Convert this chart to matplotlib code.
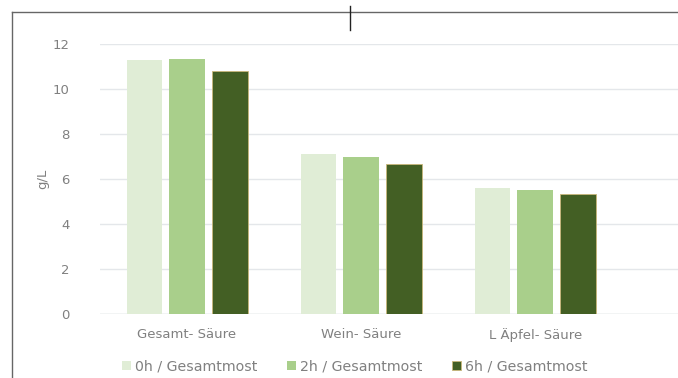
import numpy as np
import matplotlib.pyplot as plt
from matplotlib.lines import Line2D

categories = ['Gesamt- Säure', 'Wein- Säure', 'L Äpfel- Säure']
series_names = ['0h / Gesamtmost', '2h / Gesamtmost', '6h / Gesamtmost']
values_0h = [11.3, 7.1, 5.6]
values_2h = [11.35, 7.0, 5.5]
values_6h = [10.8, 6.65, 5.35]
colors = ['#e0edd6', '#a9cf8b', '#435f24']

fig = plt.figure(figsize=(6.78, 3.78), dpi=100)
ax = fig.add_axes([0.1475, 0.1693, 0.8525, 0.7143])

x = np.arange(len(categories))
width = 0.205
step = 0.245
for i, (vals, name, col) in enumerate(zip([values_0h, values_2h, values_6h], series_names, colors)):
    edge = '#c9b77a' if i == 2 else col
    ax.bar(x + (i - 1) * step, vals, width, color=col, label=name,
           edgecolor=edge, linewidth=0.6 if i == 2 else 0, zorder=3)

ax.set_ylim(0, 12)
ax.set_xlim(-0.5, 2.82)
ax.set_yticks(range(0, 13, 2))
ax.yaxis.grid(True, color='#e4e7ea', linewidth=1, zorder=0)
ax.axhline(0, color='#d9dde0', linewidth=1, zorder=2)
for s in ax.spines.values():
    s.set_visible(False)
ax.tick_params(axis='both', length=0, colors='#808080', labelsize=9.5)
ax.tick_params(axis='y', pad=22)
ax.tick_params(axis='x', pad=10)
ax.set_xticks(x)
ax.set_xticklabels(categories)
ax.set_ylabel('g/L', color='#808080', fontsize=9.5, labelpad=2)

ax.legend(loc='center left', bbox_to_anchor=(0.029, -0.193), borderaxespad=0,
          ncol=3, frameon=False, fontsize=10.2, labelcolor='#808080',
          handlelength=0.6, handleheight=0.6, handletextpad=0.3, columnspacing=2.1)

# page frame around the chart
fig.add_artist(Line2D([12 / 678, 1], [1 - 12 / 378, 1 - 12 / 378], color='#666666', linewidth=1))
fig.add_artist(Line2D([12 / 678, 12 / 678], [0, 1 - 12 / 378], color='#666666', linewidth=1))
fig.add_artist(Line2D([350 / 678, 350 / 678], [1 - 6 / 378, 1 - 30 / 378], color='#222222', linewidth=1))

fig.savefig('out.png', dpi=100)
